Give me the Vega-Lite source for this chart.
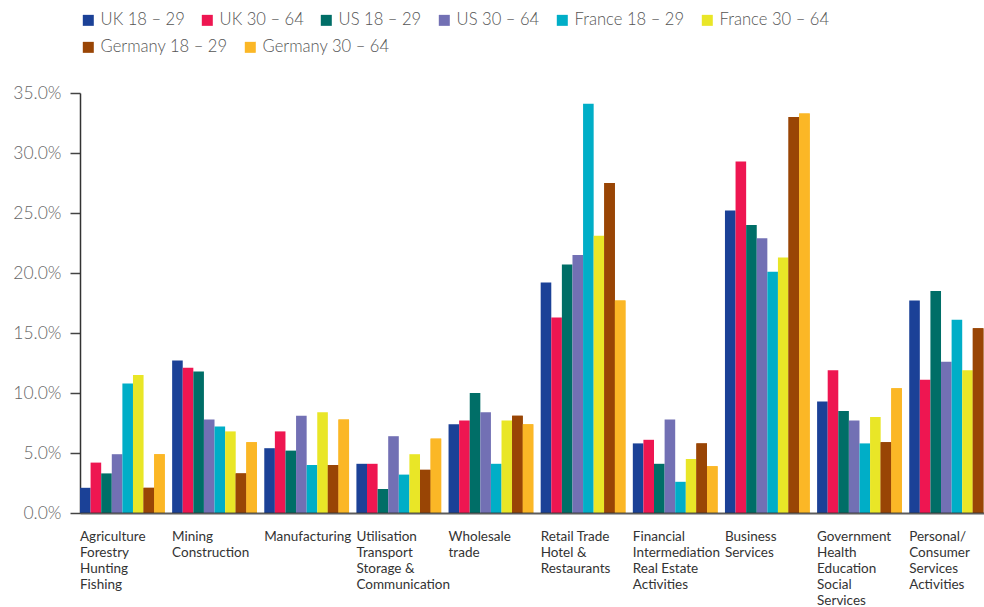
{
  "$schema": "https://vega.github.io/schema/vega-lite/v6.json",
  "width": 904,
  "height": 420,
  "autosize": {"type": "none"},
  "padding": {"left": 80, "top": 93, "right": 0, "bottom": 94},
  "background": "white",
  "config": {"view": {"stroke": null}, "font": "Lato",
    "legend": {"title": null, "orient": "none", "direction": "horizontal", "symbolType": "square", "symbolSize": 121,
      "symbolStrokeWidth": 0, "symbolOpacity": 1, "labelFontSize": 16.6, "labelFontWeight": 300, "labelColor": "#555",
      "labelOffset": 4, "columnPadding": 14, "labelLimit": 0}},
  "data": {"values": [
    {"sector": "Agriculture|Forestry|Hunting|Fishing", "series": "UK 18 – 29", "value": 2.1},
    {"sector": "Agriculture|Forestry|Hunting|Fishing", "series": "UK 30 – 64", "value": 4.2},
    {"sector": "Agriculture|Forestry|Hunting|Fishing", "series": "US 18 – 29", "value": 3.3},
    {"sector": "Agriculture|Forestry|Hunting|Fishing", "series": "US 30 – 64", "value": 4.9},
    {"sector": "Agriculture|Forestry|Hunting|Fishing", "series": "France 18 – 29", "value": 10.8},
    {"sector": "Agriculture|Forestry|Hunting|Fishing", "series": "France 30 – 64", "value": 11.5},
    {"sector": "Agriculture|Forestry|Hunting|Fishing", "series": "Germany 18 – 29", "value": 2.1},
    {"sector": "Agriculture|Forestry|Hunting|Fishing", "series": "Germany 30 – 64", "value": 4.9},
    {"sector": "Mining|Construction", "series": "UK 18 – 29", "value": 12.7},
    {"sector": "Mining|Construction", "series": "UK 30 – 64", "value": 12.1},
    {"sector": "Mining|Construction", "series": "US 18 – 29", "value": 11.8},
    {"sector": "Mining|Construction", "series": "US 30 – 64", "value": 7.8},
    {"sector": "Mining|Construction", "series": "France 18 – 29", "value": 7.2},
    {"sector": "Mining|Construction", "series": "France 30 – 64", "value": 6.8},
    {"sector": "Mining|Construction", "series": "Germany 18 – 29", "value": 3.3},
    {"sector": "Mining|Construction", "series": "Germany 30 – 64", "value": 5.9},
    {"sector": "Manufacturing", "series": "UK 18 – 29", "value": 5.4},
    {"sector": "Manufacturing", "series": "UK 30 – 64", "value": 6.8},
    {"sector": "Manufacturing", "series": "US 18 – 29", "value": 5.2},
    {"sector": "Manufacturing", "series": "US 30 – 64", "value": 8.1},
    {"sector": "Manufacturing", "series": "France 18 – 29", "value": 4.0},
    {"sector": "Manufacturing", "series": "France 30 – 64", "value": 8.4},
    {"sector": "Manufacturing", "series": "Germany 18 – 29", "value": 4.0},
    {"sector": "Manufacturing", "series": "Germany 30 – 64", "value": 7.8},
    {"sector": "Utilisation|Transport|Storage &|Communication", "series": "UK 18 – 29", "value": 4.1},
    {"sector": "Utilisation|Transport|Storage &|Communication", "series": "UK 30 – 64", "value": 4.1},
    {"sector": "Utilisation|Transport|Storage &|Communication", "series": "US 18 – 29", "value": 2.0},
    {"sector": "Utilisation|Transport|Storage &|Communication", "series": "US 30 – 64", "value": 6.4},
    {"sector": "Utilisation|Transport|Storage &|Communication", "series": "France 18 – 29", "value": 3.2},
    {"sector": "Utilisation|Transport|Storage &|Communication", "series": "France 30 – 64", "value": 4.9},
    {"sector": "Utilisation|Transport|Storage &|Communication", "series": "Germany 18 – 29", "value": 3.6},
    {"sector": "Utilisation|Transport|Storage &|Communication", "series": "Germany 30 – 64", "value": 6.2},
    {"sector": "Wholesale|trade", "series": "UK 18 – 29", "value": 7.4},
    {"sector": "Wholesale|trade", "series": "UK 30 – 64", "value": 7.7},
    {"sector": "Wholesale|trade", "series": "US 18 – 29", "value": 10.0},
    {"sector": "Wholesale|trade", "series": "US 30 – 64", "value": 8.4},
    {"sector": "Wholesale|trade", "series": "France 18 – 29", "value": 4.1},
    {"sector": "Wholesale|trade", "series": "France 30 – 64", "value": 7.7},
    {"sector": "Wholesale|trade", "series": "Germany 18 – 29", "value": 8.1},
    {"sector": "Wholesale|trade", "series": "Germany 30 – 64", "value": 7.4},
    {"sector": "Retail Trade|Hotel &|Restaurants", "series": "UK 18 – 29", "value": 19.2},
    {"sector": "Retail Trade|Hotel &|Restaurants", "series": "UK 30 – 64", "value": 16.3},
    {"sector": "Retail Trade|Hotel &|Restaurants", "series": "US 18 – 29", "value": 20.7},
    {"sector": "Retail Trade|Hotel &|Restaurants", "series": "US 30 – 64", "value": 21.5},
    {"sector": "Retail Trade|Hotel &|Restaurants", "series": "France 18 – 29", "value": 34.1},
    {"sector": "Retail Trade|Hotel &|Restaurants", "series": "France 30 – 64", "value": 23.1},
    {"sector": "Retail Trade|Hotel &|Restaurants", "series": "Germany 18 – 29", "value": 27.5},
    {"sector": "Retail Trade|Hotel &|Restaurants", "series": "Germany 30 – 64", "value": 17.7},
    {"sector": "Financial|Intermediation|Real Estate|Activities", "series": "UK 18 – 29", "value": 5.8},
    {"sector": "Financial|Intermediation|Real Estate|Activities", "series": "UK 30 – 64", "value": 6.1},
    {"sector": "Financial|Intermediation|Real Estate|Activities", "series": "US 18 – 29", "value": 4.1},
    {"sector": "Financial|Intermediation|Real Estate|Activities", "series": "US 30 – 64", "value": 7.8},
    {"sector": "Financial|Intermediation|Real Estate|Activities", "series": "France 18 – 29", "value": 2.6},
    {"sector": "Financial|Intermediation|Real Estate|Activities", "series": "France 30 – 64", "value": 4.5},
    {"sector": "Financial|Intermediation|Real Estate|Activities", "series": "Germany 18 – 29", "value": 5.8},
    {"sector": "Financial|Intermediation|Real Estate|Activities", "series": "Germany 30 – 64", "value": 3.9},
    {"sector": "Business|Services", "series": "UK 18 – 29", "value": 25.2},
    {"sector": "Business|Services", "series": "UK 30 – 64", "value": 29.3},
    {"sector": "Business|Services", "series": "US 18 – 29", "value": 24.0},
    {"sector": "Business|Services", "series": "US 30 – 64", "value": 22.9},
    {"sector": "Business|Services", "series": "France 18 – 29", "value": 20.1},
    {"sector": "Business|Services", "series": "France 30 – 64", "value": 21.3},
    {"sector": "Business|Services", "series": "Germany 18 – 29", "value": 33.0},
    {"sector": "Business|Services", "series": "Germany 30 – 64", "value": 33.3},
    {"sector": "Government|Health|Education|Social|Services", "series": "UK 18 – 29", "value": 9.3},
    {"sector": "Government|Health|Education|Social|Services", "series": "UK 30 – 64", "value": 11.9},
    {"sector": "Government|Health|Education|Social|Services", "series": "US 18 – 29", "value": 8.5},
    {"sector": "Government|Health|Education|Social|Services", "series": "US 30 – 64", "value": 7.7},
    {"sector": "Government|Health|Education|Social|Services", "series": "France 18 – 29", "value": 5.8},
    {"sector": "Government|Health|Education|Social|Services", "series": "France 30 – 64", "value": 8.0},
    {"sector": "Government|Health|Education|Social|Services", "series": "Germany 18 – 29", "value": 5.9},
    {"sector": "Government|Health|Education|Social|Services", "series": "Germany 30 – 64", "value": 10.4},
    {"sector": "Personal/|Consumer|Services|Activities", "series": "UK 18 – 29", "value": 17.7},
    {"sector": "Personal/|Consumer|Services|Activities", "series": "UK 30 – 64", "value": 11.1},
    {"sector": "Personal/|Consumer|Services|Activities", "series": "US 18 – 29", "value": 18.5},
    {"sector": "Personal/|Consumer|Services|Activities", "series": "US 30 – 64", "value": 12.6},
    {"sector": "Personal/|Consumer|Services|Activities", "series": "France 18 – 29", "value": 16.1},
    {"sector": "Personal/|Consumer|Services|Activities", "series": "France 30 – 64", "value": 11.9},
    {"sector": "Personal/|Consumer|Services|Activities", "series": "Germany 18 – 29", "value": 15.4}
  ]},
  "encoding": {
    "x": {
      "field": "sector", "type": "nominal", "sort": null,
      "scale": {"range": [0, 914], "paddingInner": 0.08, "paddingOuter": 0},
      "axis": {
        "title": null, "labelAngle": 0, "labelAlign": "left", "labelBaseline": "top", "labelOffset": -42.4,
        "labelExpr": "split(datum.label, '|')", "labelFontSize": 13.5, "labelLineHeight": 16,
        "labelColor": "#333", "labelPadding": 16, "labelLimit": 0, "labelOverlap": false,
        "ticks": false, "domainColor": "#333", "domainWidth": 2, "domainOpacity": 0.8, "zindex": 1
      }
    },
    "xOffset": {"field": "series", "type": "nominal", "sort": null, "scale": {"paddingInner": 0, "paddingOuter": 0}},
    "y": {
      "field": "value", "type": "quantitative",
      "scale": {"domain": [0, 35], "nice": false},
      "axis": {
        "title": null, "values": [0, 5, 10, 15, 20, 25, 30, 35], "grid": false,
        "labelExpr": "format(datum.value, '.1f') + '%'", "labelFontSize": 17.5, "labelFontWeight": 300, "labelColor": "#666",
        "labelPadding": 9, "tickSize": 10, "tickColor": "#444", "tickWidth": 1.5,
        "domainColor": "#333", "domainWidth": 1.5
      }
    }
  },
  "layer": [
    {
      "mark": {"type": "bar"},
      "encoding": {
        "color": {
          "field": "series", "type": "nominal", "sort": null,
          "scale": {
            "domain": ["UK 18 – 29", "UK 30 – 64", "US 18 – 29", "US 30 – 64", "France 18 – 29", "France 30 – 64", "Germany 18 – 29", "Germany 30 – 64"],
            "range": ["#1B4197", "#EE1651", "#006E67", "#7270B4", "#00AEC7", "#E9E627", "#994505", "#FBB726"]
          },
          "legend": {
            "values": ["UK 18 – 29", "UK 30 – 64", "US 18 – 29", "US 30 – 64", "France 18 – 29", "France 30 – 64"],
            "legendX": 0, "legendY": -81
          }
        }
      }
    },
    {
      "transform": [{"filter": {"field": "series", "oneOf": ["Germany 18 – 29", "Germany 30 – 64"]}}],
      "mark": {"type": "bar"},
      "encoding": {
        "fill": {
          "field": "series", "type": "nominal", "sort": null,
          "scale": {
            "domain": ["Germany 18 – 29", "Germany 30 – 64"],
            "range": ["#994505", "#FBB726"]
          },
          "legend": {"legendX": 0, "legendY": -54}
        }
      }
    }
  ]
}
